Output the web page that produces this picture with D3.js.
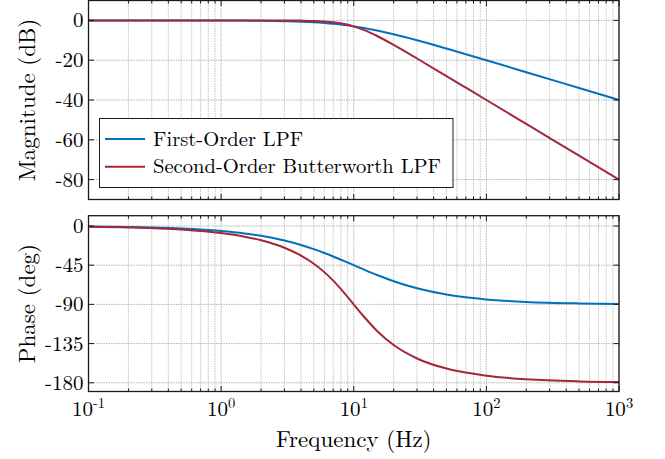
<!DOCTYPE html>
<html>
<head>
<meta charset="utf-8">
<script src="https://cdn.jsdelivr.net/npm/d3@7"></script>
<style>
  html, body { margin: 0; padding: 0; background: #fff; }
  svg { display: block; }
</style>
</head>
<body>
<svg id="chart" width="665" height="459"></svg>
<script>
// ---- data ----
const freq = [0.1, 0.2, 0.5, 1, 1.5, 2, 3, 4, 5, 6, 7, 8.5, 10, 12, 15, 20, 30, 50, 70, 100, 200, 500, 1000];
const magFirst = [0, 0, -0.01, -0.04, -0.1, -0.17, -0.37, -0.65, -0.97, -1.34, -1.73, -2.36, -3.01, -3.87, -5.12, -6.99, -10, -14.15, -16.99, -20.04, -26.03, -33.98, -40];
const magSecond = [0, 0, 0, 0, 0, -0.01, -0.04, -0.11, -0.26, -0.53, -0.93, -1.82, -3.01, -4.88, -7.83, -12.3, -19.14, -27.97, -33.81, -40, -52.04, -67.96, -80];
const phaseFirst = [-0.57, -1.15, -2.86, -5.71, -8.53, -11.31, -16.7, -21.8, -26.57, -30.96, -34.99, -40.36, -45, -50.19, -56.31, -63.43, -71.57, -78.69, -81.87, -84.29, -87.14, -88.85, -89.43];
const phaseSecond = [-0.81, -1.62, -4.05, -8.13, -12.24, -16.41, -25.0, -33.96, -43.3, -52.97, -62.7, -77.0, -90, -104.5, -120.5, -136.7, -152.1, -163.6, -168.3, -171.9, -175.95, -178.4, -179.2];
const seriesNames = ["First-Order LPF", "Second-Order Butterworth LPF"];
const magTicks = [0, -20, -40, -60, -80];
const phaseTicks = [0, -45, -90, -135, -180];
const freqTicks = [0.1, 1, 10, 100, 1000];
const freqTickExp = ["-1", "0", "1", "2", "3"];

// ---- layout ----
const FONT = '"Latin Modern Roman", "Liberation Serif", serif';
const svg = d3.select("#chart");
const colors = ["#0072BD", "#A3283A"];
const x = d3.scaleLog().domain([0.1, 1000]).range([88.5, 619]);
const yMag = d3.scaleLinear().domain([-90, 10]).range([199.5, 0.5]);
const yPh = d3.scaleLinear().domain([-190, 11.8]).range([391.5, 215.7]);

const minorTicks = [];
for (let e = -1; e < 3; e++) for (let m = 2; m <= 9; m++) minorTicks.push(m * Math.pow(10, e));

function txt(sel) { return sel.append("text").style("font-family", FONT).attr("fill", "#000"); }

function panel(y, yticks, magData, label, showX) {
  const g = svg.append("g");
  const [x0, x1] = x.range();
  const [yb, yt] = y.range();
  // grid
  g.selectAll(".vmin").data(minorTicks).join("line")
    .attr("x1", d => x(d)).attr("x2", d => x(d)).attr("y1", yt).attr("y2", yb)
    .attr("stroke", "#c4c4c4").attr("stroke-width", 1).attr("stroke-dasharray", "1.5,1");
  g.selectAll(".vmaj").data(freqTicks).join("line")
    .attr("x1", d => x(d)).attr("x2", d => x(d)).attr("y1", yt).attr("y2", yb)
    .attr("stroke", "#b4b4b4").attr("stroke-width", 1).attr("stroke-dasharray", "1.5,1");
  g.selectAll(".hmaj").data(yticks).join("line")
    .attr("x1", x0).attr("x2", x1).attr("y1", d => y(d)).attr("y2", d => y(d))
    .attr("stroke", "#b4b4b4").attr("stroke-width", 1).attr("stroke-dasharray", "1.5,1");
  // curves
  const line = d3.line().x(d => x(d[0])).y(d => y(d[1])).curve(d3.curveMonotoneX);
  magData.forEach((vals, i) => {
    g.append("path").datum(freq.map((f, k) => [f, vals[k]]))
      .attr("d", line).attr("fill", "none").attr("stroke", colors[i]).attr("stroke-width", 2);
  });
  // ticks (inward, all sides)
  const tk = g.append("g").attr("stroke", "#1a1a1a").attr("stroke-width", 1);
  freqTicks.forEach(d => {
    tk.append("line").attr("x1", x(d)).attr("x2", x(d)).attr("y1", yb).attr("y2", yb - 5.5);
    tk.append("line").attr("x1", x(d)).attr("x2", x(d)).attr("y1", yt).attr("y2", yt + 5.5);
  });
  minorTicks.forEach(d => {
    tk.append("line").attr("x1", x(d)).attr("x2", x(d)).attr("y1", yb).attr("y2", yb - 3);
    tk.append("line").attr("x1", x(d)).attr("x2", x(d)).attr("y1", yt).attr("y2", yt + 3);
  });
  yticks.forEach(d => {
    tk.append("line").attr("x1", x0).attr("x2", x0 + 5.5).attr("y1", y(d)).attr("y2", y(d));
    tk.append("line").attr("x1", x1).attr("x2", x1 - 5.5).attr("y1", y(d)).attr("y2", y(d));
  });
  // frame
  g.append("rect").attr("x", x0).attr("y", yt).attr("width", x1 - x0).attr("height", yb - yt)
    .attr("fill", "none").attr("stroke", "#1a1a1a").attr("stroke-width", 1.3);
  // y tick labels
  yticks.forEach(d => {
    txt(g).attr("x", x0 - 5).attr("y", y(d)).attr("dy", "0.33em")
      .attr("text-anchor", "end").attr("font-size", 21)
      .text(d === 0 ? "0" : "-" + Math.abs(d));
  });
  // y label
  txt(g).attr("transform", `translate(35,${(yt + yb) / 2}) rotate(-90)`)
    .attr("text-anchor", "middle").attr("font-size", 23)
    .text(label);
  if (showX) {
    freqTicks.forEach((d, i) => {
      const t = txt(g).attr("x", x(d)).attr("y", 416).attr("text-anchor", "middle").attr("font-size", 21);
      t.append("tspan").text("10");
      t.append("tspan").attr("font-size", 14.5).attr("dy", -8).text(freqTickExp[i]);
    });
    txt(g).attr("x", (x0 + x1) / 2).attr("y", 447).attr("text-anchor", "middle")
      .attr("font-size", 23).text("Frequency (Hz)");
  }
  return g;
}

panel(yMag, magTicks, [magFirst, magSecond], "Magnitude (dB)", false);
panel(yPh, phaseTicks, [phaseFirst, phaseSecond], "Phase (deg)", true);

// legend
const lg = svg.append("g");
lg.append("rect").attr("x", 99.5).attr("y", 118.5).attr("width", 353.5).attr("height", 69)
  .attr("fill", "#fff").attr("stroke", "#1a1a1a").attr("stroke-width", 1);
seriesNames.forEach((n, i) => {
  const yy = 139 + i * 27.7;
  lg.append("line").attr("x1", 105).attr("x2", 145).attr("y1", yy).attr("y2", yy)
    .attr("stroke", colors[i]).attr("stroke-width", 2);
  txt(lg).attr("x", 153).attr("y", yy).attr("dy", "0.33em").attr("font-size", 20.6).text(n);
});
</script>
</body>
</html>
